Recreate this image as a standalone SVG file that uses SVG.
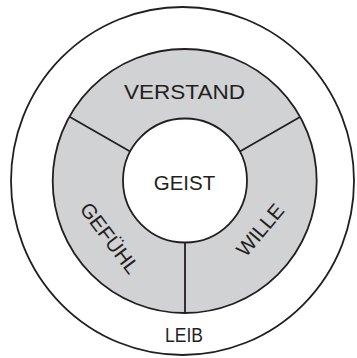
<svg xmlns="http://www.w3.org/2000/svg" width="357" height="358" viewBox="0 0 357 358">
<style>
.ln{fill:none;stroke:#231f20;stroke-width:1.8}
.t{font-family:"Liberation Sans",Arial,sans-serif;font-size:20.5px;fill:#231f20;text-anchor:middle}
</style>
<rect width="357" height="358" fill="#fff"/>
<g id="leib">
<ellipse cx="182.5" cy="181" rx="171.5" ry="174" fill="#fff" class="ln" style="fill:#fff"/>
<text class="t" x="184" y="342" textLength="38" lengthAdjust="spacingAndGlyphs">LEIB</text>
</g>
<g id="ring">
<circle cx="184.7" cy="181" r="132" fill="#d1d2d4" stroke="#231f20" stroke-width="1.8"/>
</g>
<g id="connectors">
<line class="ln" x1="131" y1="152" x2="70" y2="117"/>
<line class="ln" x1="239" y1="152" x2="300" y2="117"/>
<line class="ln" x1="185" y1="242" x2="185" y2="313"/>
</g>
<g id="verstand">
<text class="t" x="184.5" y="98.5" textLength="121" lengthAdjust="spacingAndGlyphs">VERSTAND</text>
</g>
<g id="gefuehl">
<text class="t" transform="translate(104,242.5) rotate(53)">GEFÜHL</text>
</g>
<g id="wille">
<text class="t" transform="translate(265.5,234.5) rotate(-50)">WILLE</text>
</g>
<g id="geist">
<circle cx="185" cy="180.5" r="62" fill="#fff" stroke="#231f20" stroke-width="1.8"/>
<text class="t" x="184.5" y="190">GEIST</text>
</g>
</svg>
